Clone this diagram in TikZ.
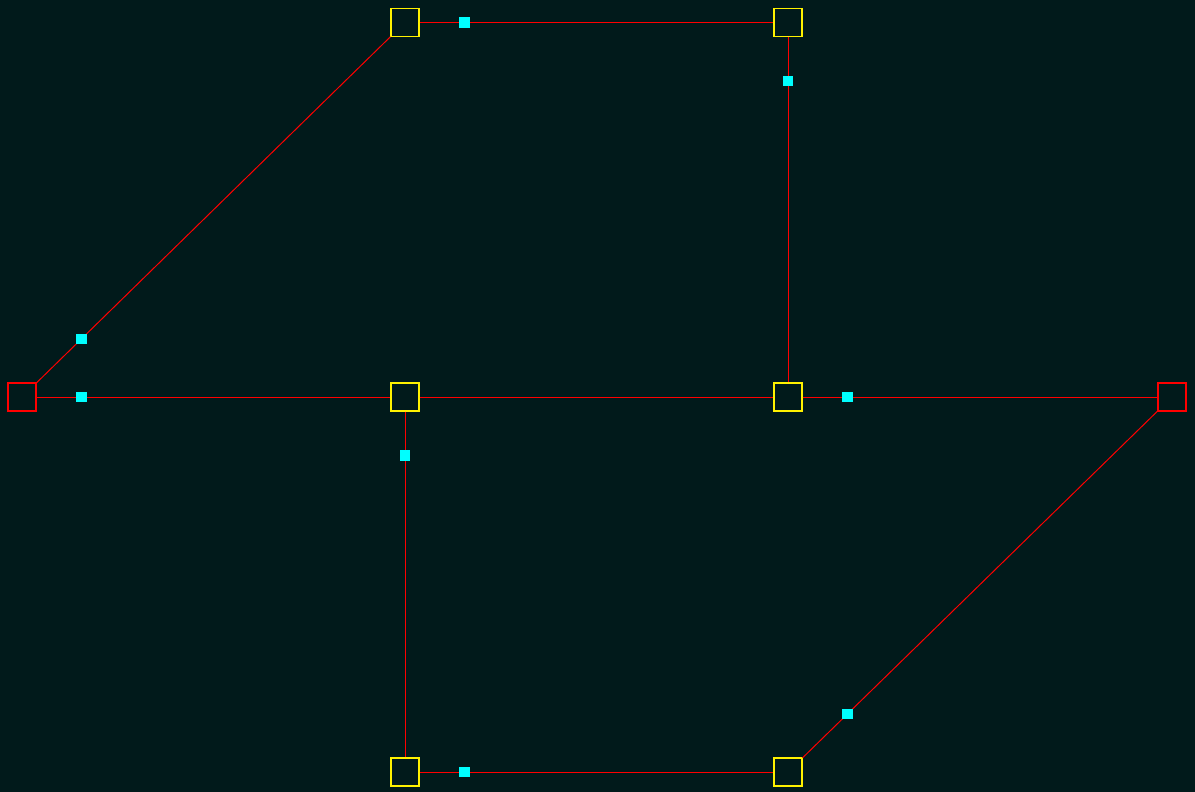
\documentclass[tikz,border=0pt]{standalone}
\usepackage{xcolor}
\usepackage{tikz}
\usetikzlibrary{arrows.meta,positioning}
\definecolor{bgdark}{RGB}{1,26,27}
\definecolor{edgered}{RGB}{255,0,0}
\definecolor{markcyan}{RGB}{0,255,255}

\begin{document}
\begin{tikzpicture}[x=0.5pt,y=-0.5pt,
box/.style={draw,minimum size=14pt,inner sep=0pt,line width=0.55pt},
sink/.style={box,draw=yellow},
port/.style={box,draw=edgered},
link/.style={draw=edgered,line width=0.5pt},
dot/.style={fill=markcyan,minimum size=5.2pt,inner sep=0pt,pos=0.127}]
\fill[bgdark](0,0)rectangle(1195,792);
\useasboundingbox(0,0)rectangle(1195,792);
% ports on the sides
\node[port](l) at (22,397){};
\node[port](r) at (1172,397){};
% grid of sinks
\node[sink](tl) at (405,22.5){};
\node[sink](tr) at (788,22.5){};
\node[sink](ml) at (405,397){};
\node[sink](mr) at (788,397){};
\node[sink](bl) at (405,772){};
\node[sink](br) at (788,772){};
% links
\draw[link](l)--node[dot]{}(tl);
\draw[link](tl)--node[dot]{}(tr);
\draw[link](tr)--node[dot]{}(mr);
\draw[link](l)--node[dot]{}(ml);
\draw[link](ml)--(mr);
\draw[link](mr)--node[dot]{}(r);
\draw[link](ml)--node[dot]{}(bl);
\draw[link](bl)--node[dot]{}(br);
\draw[link](br)--node[dot]{}(r);
\end{tikzpicture}
\end{document}
